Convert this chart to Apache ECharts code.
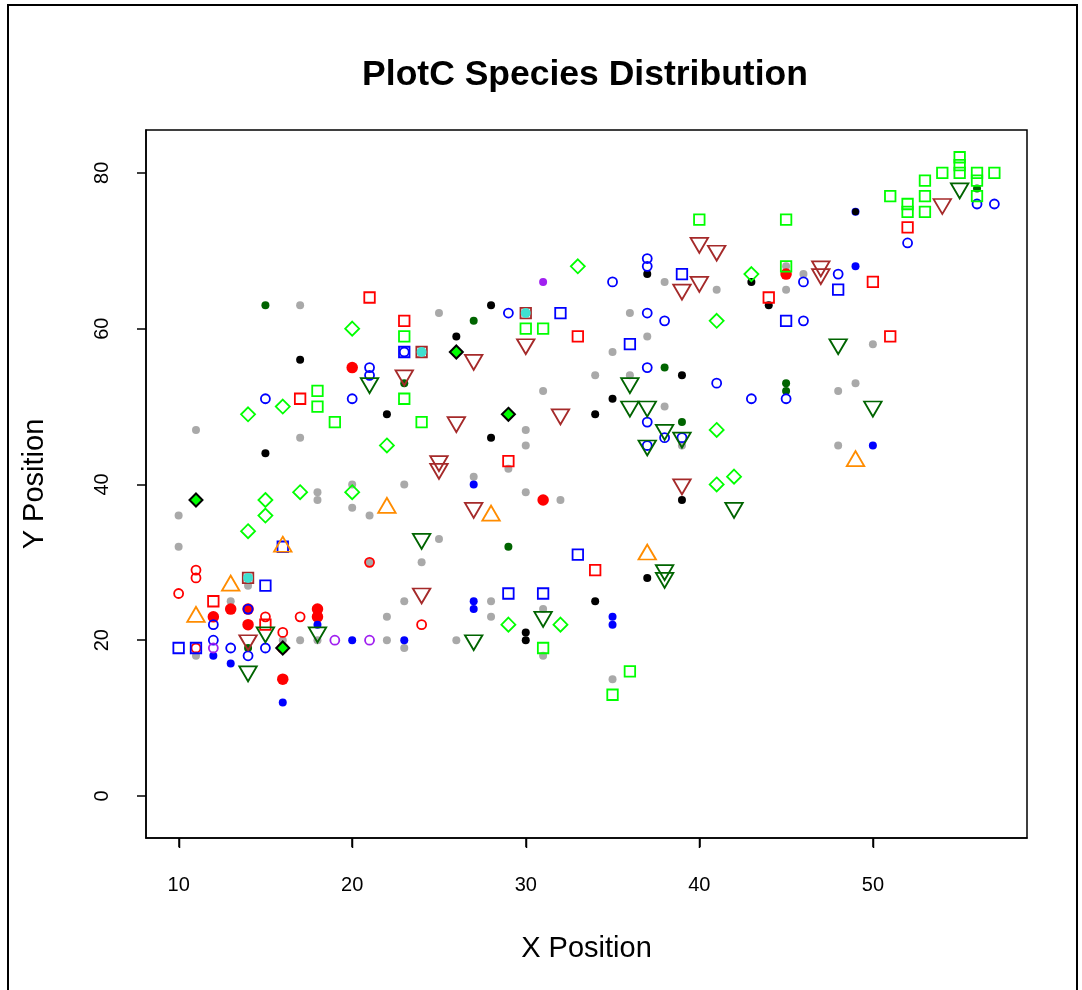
<!DOCTYPE html>
<html>
<head>
<meta charset="utf-8">
<script src="https://cdn.jsdelivr.net/npm/echarts@6/dist/echarts.min.js"></script>
<style>html,body{margin:0;padding:0;background:#fff}#c{width:1082px;height:990px}</style>
</head>
<body>
<div id="c"></div>
<script>
const xTicks = [10, 20, 30, 40, 50];
const yTicks = [0, 20, 40, 60, 80];

const greyDots = [[10,36],[10,32],[11,47],[11,18],[17,63],[25,62],[36,62],[37,59],[38,66],[41,65],[45,68],[46,67],[45,65],[50,58],[49,53],[48,52],[48,45],[35,57],[34,54],[36,54],[38,50],[39,45],[31,52],[30,47],[30,45],[29,42],[27,41],[23,40],[30,39],[32,38],[21,36],[17,46],[18,39],[18,38],[20,40],[20,37],[21,30],[14,27],[13,25],[17,20],[18,20],[16,20],[25,33],[24,30],[23,25],[28,25],[28,23],[31,24],[22,23],[22,20],[23,19],[26,20],[31,18],[35,15]];
const blackDots = [[28,63],[26,59],[37,67],[43,66],[44,63],[39,54],[35,51],[34,49],[39,38],[22,49],[28,46],[17,56],[15,44],[30,21],[30,20],[37,28],[34,25]];
const blackOverBlue = [[49,75]];
const darkGreenDots = [[15,63],[27,61],[56,78],[38,55],[45,53],[45,52],[39,48],[23,53],[14,19],[29,32]];
const blueDots = [[49,75],[49,68],[50,45],[27,40],[18,22],[20,20],[23,20],[12,18],[13,17],[16,12],[27,25],[27,24],[35,23],[35,22]];
const purpleDots = [[31,66]];
const redFilled = [[45,67],[31,38],[20,55],[13,24],[14,24],[12,23],[14,22],[18,24],[18,23],[16,19],[16,15]];
const redCircles = [[11,29],[11,28],[10,26],[15,23],[17,23],[16,21],[11,19],[24,22],[21,30]];
const blueCircles = [[37,69],[37,68],[35,66],[37,62],[38,61],[46,66],[46,61],[52,71],[56,76],[57,76],[48,67],[29,62],[21,55],[21,54],[15,51],[20,51],[37,55],[41,53],[43,51],[45,51],[37,48],[38,46],[39,46],[37,45],[14,24],[12,22],[12,20],[13,19],[15,19],[14,18],[23,57]];
const purpleCircles = [[19,20],[21,20],[12,19]];
const redSquares = [[21,64],[23,61],[33,59],[44,64],[52,73],[50,66],[51,59],[17,51],[29,43],[12,25],[15,22],[34,29]];
const blueSquares = [[32,62],[23,57],[39,67],[45,61],[36,58],[48,65],[16,32],[15,27],[10,19],[11,19],[29,26],[31,26],[33,31]];
const limeSquares = [[55,82],[55,81],[55,80],[54,80],[56,80],[57,80],[56,79],[56,77],[53,79],[53,77],[53,75],[52,76],[52,75],[51,77],[40,74],[45,74],[45,68],[30,60],[31,60],[23,59],[23,51],[24,48],[18,52],[18,50],[19,48],[31,19],[36,16],[35,13]];
const limeDiamonds = [[33,68],[43,67],[41,61],[20,60],[16,50],[14,49],[22,45],[41,47],[41,40],[42,41],[15,38],[15,36],[17,39],[20,39],[14,34],[29,22],[32,22]];
const filledDiamonds = [[11,38],[26,57],[29,49],[16,19]];
const orangeTriangles = [[22,37],[28,36],[16,32],[13,27],[11,23],[37,31],[49,43]];
const brownDownTriangles = [[40,71],[41,70],[39,65],[40,66],[54,76],[47,68],[47,67],[27,56],[30,58],[23,54],[26,48],[32,49],[25,43],[25,42],[27,37],[39,40],[24,26],[14,20]];
const greenDownTriangles = [[55,78],[48,58],[50,50],[36,53],[36,50],[37,50],[38,47],[39,46],[37,45],[42,37],[21,53],[24,33],[38,29],[38,28],[31,23],[27,20],[15,21],[18,21],[14,16]];
const cyanMarks = [[30,62],[24,57],[14,28]];

const X_MIN = 8.12, X_MAX = 58.88, Y_MIN = -5.39, Y_MAX = 85.5;
const FONT = 'Liberation Sans';
const SW = 1.8;

function dots(data, color, size) {
  return { type: 'scatter', data: data, symbol: 'circle', symbolSize: size,
    itemStyle: { color: color, opacity: 1 }, silent: true };
}
function open(data, color, symbol, size, extra) {
  return Object.assign({ type: 'scatter', data: data, symbol: symbol, symbolSize: size,
    itemStyle: { color: 'rgba(0,0,0,0)', borderColor: color, borderWidth: SW, opacity: 1 }, silent: true }, extra || {});
}

const chart = echarts.init(document.getElementById('c'), null, { renderer: 'canvas' });
chart.setOption({
  animation: false,
  backgroundColor: '#fff',
  title: {
    text: 'PlotC Species Distribution', left: 580, top: 52, textAlign: 'center',
    textStyle: { fontFamily: FONT, fontWeight: 'bold', fontSize: 35.5, color: '#000' }
  },
  graphic: [{
    type: 'rect', shape: { x: 8, y: 5, width: 1069, height: 1010 },
    style: { fill: null, stroke: '#000', lineWidth: 2 }, silent: true, z: 0
  }],
  grid: { left: 146, right: 55, top: 130, bottom: 152, show: true, borderColor: '#000', borderWidth: 1.5, backgroundColor: 'transparent' },
  xAxis: {
    type: 'value', min: X_MIN, max: X_MAX, position: 'bottom',
    name: 'X Position', nameLocation: 'middle', nameGap: 96,
    nameTextStyle: { fontFamily: FONT, fontSize: 29, color: '#000' },
    axisLine: { show: true, onZero: false, lineStyle: { color: '#000', width: 1.5 } },
    axisTick: { show: true, inside: false, length: 9, lineStyle: { color: '#000', width: 1.5 }, customValues: xTicks },
    axisLabel: { fontFamily: FONT, fontSize: 20, color: '#000', margin: 37, customValues: xTicks },
    splitLine: { show: false }
  },
  yAxis: {
    type: 'value', min: Y_MIN, max: Y_MAX, position: 'left',
    name: 'Y Position', nameLocation: 'middle', nameGap: 97,
    nameTextStyle: { fontFamily: FONT, fontSize: 29, color: '#000' },
    axisLine: { show: true, onZero: false, lineStyle: { color: '#000', width: 1.5 } },
    axisTick: { show: true, inside: false, length: 9, lineStyle: { color: '#000', width: 1.5 }, customValues: yTicks },
    axisLabel: { fontFamily: FONT, fontSize: 20, color: '#000', margin: 34, rotate: 90, customValues: yTicks },
    splitLine: { show: false }
  },
  series: [
    {
      type: 'custom', silent: true, clip: false, z: 10,
      data: xTicks.map(function (v) { return [v, Y_MIN]; }),
      encode: { x: 0, y: 1 },
      renderItem: function (params, api) {
        const p = api.coord([api.value(0), api.value(1)]);
        const x = Math.round(p[0]) + 0.5;
        return { type: 'line', shape: { x1: x, y1: p[1], x2: x, y2: p[1] + 10 },
          style: { stroke: '#000', lineWidth: 1.5 } };
      }
    },
    dots(greyDots, '#a9a9a9', 8),
    dots(redFilled, '#ff0000', 11.5),
    dots(blueDots, '#0000ff', 8),
    dots(blackDots, '#000000', 8),
    dots(blackOverBlue, '#000000', 7),
    dots(darkGreenDots, '#006400', 8),
    dots(purpleDots, '#a020f0', 8),
    open(redCircles, '#ff0000', 'circle', 9),
    open(blueCircles, '#0000ff', 'circle', 9),
    open(purpleCircles, '#a020f0', 'circle', 9),
    open(redSquares, '#ff0000', 'rect', 10.5),
    open(blueSquares, '#0000ff', 'rect', 10.5),
    open(limeSquares, '#00ff00', 'rect', 10.5),
    open(cyanMarks, '#a52a2a', 'rect', 10.5),
    dots(cyanMarks, '#40e0d0', 10),
    open(limeDiamonds, '#00ff00', 'diamond', 14),
    open(orangeTriangles, '#ff8c00', 'triangle', [17.5, 15], { symbolOffset: [0, -2.5] }),
    open(brownDownTriangles, '#a52a2a', 'triangle', [17.5, 15], { symbolRotate: 180, symbolOffset: [0, 2.5] }),
    open(greenDownTriangles, '#006400', 'triangle', [17.5, 15], { symbolRotate: 180, symbolOffset: [0, 2.5] }),
    { type: 'scatter', data: filledDiamonds, symbol: 'diamond', symbolSize: 13, silent: true,
      itemStyle: { color: '#00ff00', borderColor: '#000', borderWidth: 2, opacity: 1 } }
  ]
});
</script>
</body>
</html>
